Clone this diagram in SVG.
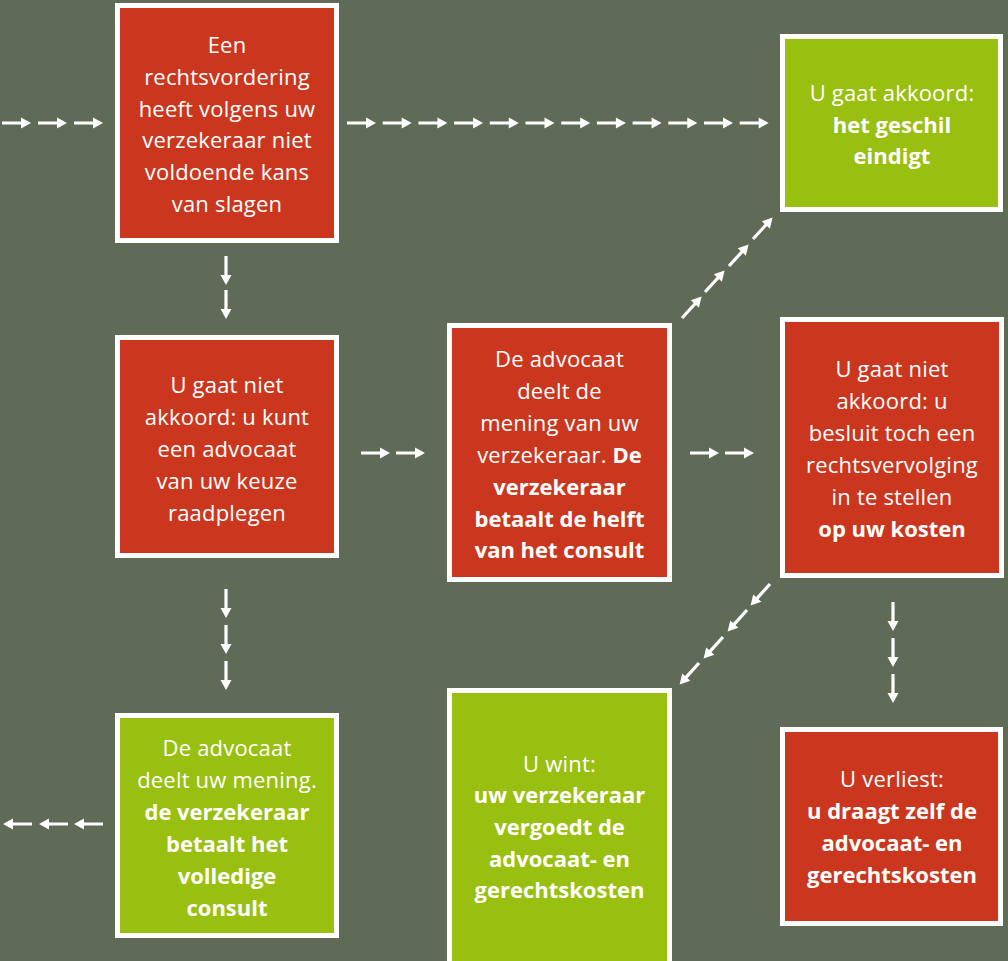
<svg xmlns="http://www.w3.org/2000/svg" xmlns:xlink="http://www.w3.org/1999/xlink" width="1008" height="961" viewBox="0 0 1008 961">
<style>
.box{stroke:#ffffff;stroke-width:5}
.red{fill:#cb371e}
.green{fill:#99bf10}
text{font-family:"Open Sans","Liberation Sans",sans-serif;font-size:22px;fill:#ffffff;text-anchor:middle;font-weight:400;letter-spacing:0.2px}
.b{font-weight:700;letter-spacing:0}
.arrow{fill:#ffffff}
</style>
<defs>
<path id="arr" class="arrow" d="M0,-1.6 H19 V-5.5 L29,0 L19,5.5 V1.6 H0 Z"/>
</defs>
<rect x="0" y="0" width="1008" height="961" fill="#5f6b56"/>

<g id="connectors">
<use xlink:href="#arr" transform="translate(2,123)"/>
<use xlink:href="#arr" transform="translate(38,123)"/>
<use xlink:href="#arr" transform="translate(74,123)"/>
<use xlink:href="#arr" transform="translate(347,123)"/>
<use xlink:href="#arr" transform="translate(382.7,123)"/>
<use xlink:href="#arr" transform="translate(418.4,123)"/>
<use xlink:href="#arr" transform="translate(454.1,123)"/>
<use xlink:href="#arr" transform="translate(489.8,123)"/>
<use xlink:href="#arr" transform="translate(525.5,123)"/>
<use xlink:href="#arr" transform="translate(561.2,123)"/>
<use xlink:href="#arr" transform="translate(596.9,123)"/>
<use xlink:href="#arr" transform="translate(632.6,123)"/>
<use xlink:href="#arr" transform="translate(668.3,123)"/>
<use xlink:href="#arr" transform="translate(704,123)"/>
<use xlink:href="#arr" transform="translate(739.7,123)"/>
<use xlink:href="#arr" transform="translate(226,256) rotate(90)"/>
<use xlink:href="#arr" transform="translate(226,290) rotate(90)"/>
<use xlink:href="#arr" transform="translate(226,589) rotate(90)"/>
<use xlink:href="#arr" transform="translate(226,625) rotate(90)"/>
<use xlink:href="#arr" transform="translate(226,661) rotate(90)"/>
<use xlink:href="#arr" transform="translate(361,453)"/>
<use xlink:href="#arr" transform="translate(396,453)"/>
<use xlink:href="#arr" transform="translate(690,453)"/>
<use xlink:href="#arr" transform="translate(725,453)"/>
<use xlink:href="#arr" transform="translate(682,318) rotate(-47.5)"/>
<use xlink:href="#arr" transform="translate(705,292) rotate(-47.5)"/>
<use xlink:href="#arr" transform="translate(729,266) rotate(-47.5)"/>
<use xlink:href="#arr" transform="translate(753,239) rotate(-47.5)"/>
<use xlink:href="#arr" transform="translate(770,584) rotate(132)"/>
<use xlink:href="#arr" transform="translate(747,610) rotate(132)"/>
<use xlink:href="#arr" transform="translate(723,637) rotate(132)"/>
<use xlink:href="#arr" transform="translate(699,663) rotate(132)"/>
<use xlink:href="#arr" transform="translate(893,602) rotate(90)"/>
<use xlink:href="#arr" transform="translate(893,638) rotate(90)"/>
<use xlink:href="#arr" transform="translate(893,674) rotate(90)"/>
<use xlink:href="#arr" transform="translate(103,824) rotate(180)"/>
<use xlink:href="#arr" transform="translate(68,824) rotate(180)"/>
<use xlink:href="#arr" transform="translate(32,824) rotate(180)"/>
</g>

<g id="node-vordering">
<rect class="box red" x="117.5" y="5.5" width="219" height="235"/>
<text x="227" y="53">Een</text>
<text x="227" y="85">rechtsvordering</text>
<text x="227" y="117">heeft volgens uw</text>
<text x="227" y="148">verzekeraar niet</text>
<text x="227" y="180">voldoende kans</text>
<text x="227" y="212">van slagen</text>
</g>

<g id="node-akkoord">
<rect class="box green" x="782.5" y="36.5" width="218" height="173"/>
<text x="892" y="101">U gaat akkoord:</text>
<text x="892" y="133" class="b">het geschil</text>
<text x="892" y="164" class="b">eindigt</text>
</g>

<g id="node-niet-akkoord">
<rect class="box red" x="117.5" y="337.5" width="219" height="218"/>
<text x="227" y="393">U gaat niet</text>
<text x="227" y="425">akkoord: u kunt</text>
<text x="227" y="457">een advocaat</text>
<text x="227" y="489">van uw keuze</text>
<text x="227" y="521">raadplegen</text>
</g>

<g id="node-advocaat-verzekeraar">
<rect class="box red" x="449.5" y="325.5" width="220" height="254"/>
<text x="559.5" y="367">De advocaat</text>
<text x="559.5" y="399">deelt de</text>
<text x="559.5" y="431">mening van uw</text>
<text x="559.5" y="463">verzekeraar. <tspan class="b">De</tspan></text>
<text x="559.5" y="495" class="b">verzekeraar</text>
<text x="559.5" y="527" class="b">betaalt de helft</text>
<text x="559.5" y="558" class="b">van het consult</text>
</g>

<g id="node-rechtsvervolging">
<rect class="box red" x="782.5" y="319.5" width="219" height="256"/>
<text x="892" y="377">U gaat niet</text>
<text x="892" y="409">akkoord: u</text>
<text x="892" y="441">besluit toch een</text>
<text x="892" y="473">rechtsvervolging</text>
<text x="892" y="505">in te stellen</text>
<text x="892" y="537" class="b">op uw kosten</text>
</g>

<g id="node-advocaat-u">
<rect class="box green" x="117.5" y="715.5" width="219" height="220"/>
<text x="227" y="756">De advocaat</text>
<text x="227" y="788">deelt uw mening.</text>
<text x="227" y="820" class="b">de verzekeraar</text>
<text x="227" y="852" class="b">betaalt het</text>
<text x="227" y="884" class="b">volledige</text>
<text x="227" y="916" class="b">consult</text>
</g>

<g id="node-wint">
<rect class="box green" x="449.5" y="690.5" width="220" height="290"/>
<text x="559.5" y="772">U wint:</text>
<text x="559.5" y="803" class="b">uw verzekeraar</text>
<text x="559.5" y="835" class="b">vergoedt de</text>
<text x="559.5" y="867" class="b">advocaat- en</text>
<text x="559.5" y="898" class="b">gerechtskosten</text>
</g>

<g id="node-verliest">
<rect class="box red" x="782.5" y="729.5" width="218" height="194"/>
<text x="892" y="787">U verliest:</text>
<text x="892" y="819" class="b">u draagt zelf de</text>
<text x="892" y="851" class="b">advocaat- en</text>
<text x="892" y="883" class="b">gerechtskosten</text>
</g>
</svg>
